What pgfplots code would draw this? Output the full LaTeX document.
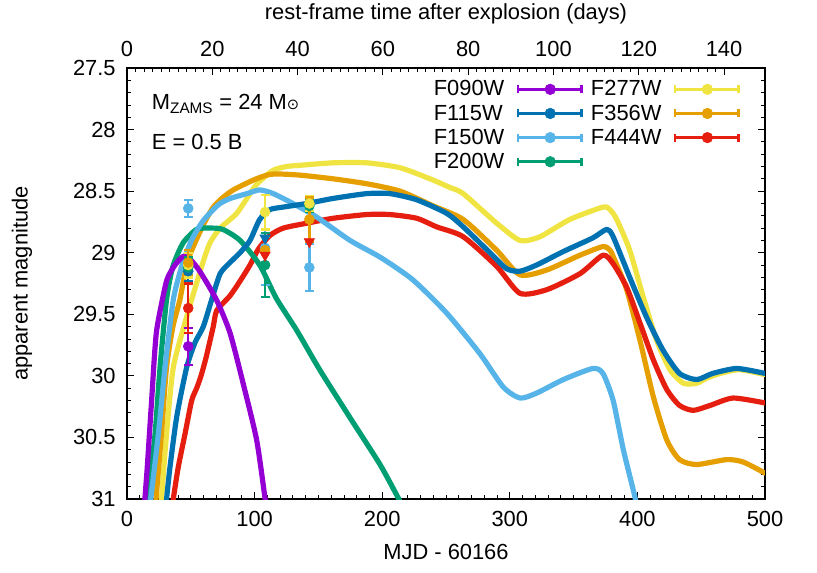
\documentclass[border=0pt]{standalone}
\usepackage{fontspec}
\setmainfont{Liberation Sans}
\newfontfamily\dejavu{DejaVu Sans}
\usepackage{pgfplots}
\pgfplotsset{compat=1.18}

\definecolor{c090}{HTML}{9400D3}
\definecolor{c115}{HTML}{0072B2}
\definecolor{c150}{HTML}{56B4E9}
\definecolor{c200}{HTML}{009E73}
\definecolor{c277}{HTML}{F0E442}
\definecolor{c356}{HTML}{E69F00}
\definecolor{c444}{HTML}{E51E10}

% gnuplot-like key sample: |---o---| drawn to the right of the text
\newcommand{\legimg}[1]{%
  \path (0pt,0pt);
  \draw[overlay, #1, line width=2pt] (63.3pt,0pt) -- (110.8pt,0pt)
    (63.3pt,-3pt) -- (63.3pt,3pt) (110.8pt,-3pt) -- (110.8pt,3pt);
  \fill[overlay, #1] (87.5pt,0pt) circle[radius=4pt];}

\pgfplotsset{
  curve/.style={line width=3.9pt, line join=round, line cap=round, mark=none,
    smooth, tension=0.4, forget plot},
  obs/.style={only marks, mark=*, mark size=3.75pt, forget plot,
    error bars/y dir=both, error bars/y explicit,
    error bars/error bar style={line width=1.8pt},
    error bars/error mark options={rotate=90, line width=1.8pt, mark size=3.4pt}},
  ulim/.style={only marks, mark=triangle*, mark size=4.5pt,
    mark options={rotate=180}, forget plot},
}

\begin{document}
\begin{tikzpicture}[font=\fontsize{16.4}{19}\selectfont]
\useasboundingbox (-95.25pt,-54.75pt) rectangle (517.5pt,374.25pt);
\begin{axis}[
  scale only axis, width=478.5pt, height=323.25pt,
  xmin=0, xmax=500, ymin=27.5, ymax=31, y dir=reverse,
  xtick={0,100,200,300,400,500},
  ytick={27.5,28,28.5,29,29.5,30,30.5,31},
  minor x tick num=9, minor y tick num=4,
  xtick pos=bottom, tick align=inside,
  major tick length=5pt, minor tick length=3pt,
  every tick/.style={black, line width=0.6pt},
  axis line style={line width=0.9pt},
  /pgf/number format/assume math mode=true,
  xticklabel style={yshift=-5.9pt},
  yticklabel style={xshift=-5pt},
  xlabel={MJD - 60166},
  xlabel style={at={(axis description cs:0.5,-0.123)}, anchor=center},
  ylabel={apparent magnitude},
  ylabel style={at={(axis description cs:-0.1646,0.5)}, anchor=center},
  legend columns=2, legend cell align=left,
  legend style={draw=none, fill=none, inner sep=0pt, outer sep=0pt,
    at={(axis description cs:0.4801,0.9705)}, anchor=north west,
    nodes={inner sep=0pt}, row sep=5.15pt,
    /tikz/every even column/.append style={column sep=64.6pt}},
]
% model light curves
\addplot[curve, c277] coordinates {
(26,31.1)(27,31.0)(31,30.47)(36.3,29.93)(46.8,29.52)(53,29.3)(59.8,29.07)(65,28.92)
(73,28.8)(86,28.68)(99,28.48)(104,28.42)(114.7,28.33)(125,28.3)(135.6,28.29)
(161.6,28.27)(187.9,28.27)(214,28.31)(237.5,28.4)(253,28.47)(263.5,28.52)
(289.7,28.76)(308,28.9)(323.7,28.87)(347,28.73)(373,28.63)(378.5,28.65)
(383.8,28.73)(394,28.98)(404.6,29.36)(415,29.71)(425.5,29.95)(436,30.06)
(446.5,30.06)(454,30.02)(465,29.98)(480,29.95)(500,29.99)};
\addplot[curve, c356] coordinates {
(21.5,31.1)(22.7,31.0)(27,30.47)(31,29.93)(36,29.6)(41.5,29.38)(46.8,29.09)
(52,28.95)(57.2,28.83)(62.5,28.72)(67.6,28.63)(74.2,28.56)(83.3,28.49)(99,28.41)
(109.5,28.37)(117,28.36)(135.6,28.37)(161.6,28.4)(187.9,28.44)(214,28.5)
(240,28.62)(263.5,28.73)(289.7,28.98)(308,29.18)(329,29.14)(355,29.02)
(373,28.95)(378.5,28.98)(381,29.03)(391.6,29.3)(402,29.71)(412.5,30.17)
(423,30.52)(433,30.68)(446.5,30.72)(470,30.68)(483,30.7)(500,30.79)};
\addplot[curve, c444] coordinates {
(35.5,31.1)(36.3,31.0)(40.2,30.74)(45.5,30.47)(50.7,30.2)(54.6,30.1)(58,30.0)
(62,29.85)(67.6,29.6)(70.3,29.47)(80.7,29.35)(88.6,29.23)(96.4,29.1)(103,28.97)
(112,28.86)(122.5,28.8)(141,28.76)(161.7,28.72)(187.9,28.69)(206,28.69)
(227,28.72)(242.7,28.79)(263.5,28.87)(289.7,29.11)(308,29.33)(329,29.3)
(355,29.17)(373,29.02)(381,29.09)(391.6,29.28)(402,29.57)(412.5,29.87)
(423,30.11)(433,30.24)(443.8,30.28)(457,30.24)(475,30.18)(500,30.22)};
\addplot[curve, c200] coordinates {
(15.5,31.1)(16.5,31.0)(22,30.47)(25.9,29.93)(31,29.38)(36,29.11)(44,28.92)
(54.6,28.81)(65,28.8)(75,28.81)(88.6,28.9)(104,29.1)(117,29.37)(133,29.63)
(151,29.95)(174.8,30.34)(198.3,30.72)(213,31.0)(215,31.05)};
\addplot[curve, c150] coordinates {
(17.5,31.1)(18.6,31.0)(24.6,30.47)(29.8,29.93)(36.3,29.38)(42.9,29.11)(50.5,28.9)
(59,28.75)(67.6,28.65)(73,28.6)(80.7,28.56)(94,28.52)(104,28.49)(114.6,28.52)
(130,28.6)(148.6,28.71)(174.8,28.9)(199,29.04)(224,29.22)(250.5,29.49)
(276.6,29.82)(294.8,30.09)(308,30.18)(321,30.14)(342,30.03)(365,29.94)
(373,29.98)(381,30.2)(389,30.6)(398,30.98)(399,31.05)};
\addplot[curve, c115] coordinates {
(30,31.1)(31,31.0)(33.7,30.74)(39,30.33)(46.8,29.93)(53.3,29.73)(59.8,29.6)
(66.4,29.38)(73,29.17)(80.7,29.08)(88.6,29.0)(96.4,28.9)(104,28.73)(112,28.65)
(122,28.63)(141,28.6)(161,28.56)(188,28.52)(206,28.52)(227,28.57)(250.5,28.68)
(263.5,28.79)(284.5,29.0)(297.5,29.13)(308,29.15)(321,29.1)(342,28.99)
(365,28.88)(376,28.81)(381,28.87)(394,29.2)(407,29.52)(420,29.79)(433,29.98)
(446.5,30.03)(459,29.98)(478,29.94)(500,29.98)};
\addplot[curve, c090] coordinates {
(13,31.15)(14,31.0)(15.9,30.74)(19.3,30.2)(23,29.65)(29.8,29.28)(32.4,29.19)
(37.6,29.1)(44,29.03)(50,29.06)(57,29.15)(70,29.38)(80.7,29.65)(91,30.06)
(101.6,30.52)(108,30.98)(109,31.05)};
% photometry
\addplot[c090, obs] coordinates {(48,29.76) +- (0,0.15)};
\addplot[c115, obs] coordinates {(48,29.15) +- (0,0.08)};
\addplot[c150, obs] coordinates {(48,28.64) +- (0,0.07) (108.2,28.96) +- (0,0.3) (142.9,29.12) +- (0,0.19)};
\addplot[c200, obs] coordinates {(48,29.12) +- (0,0.08) (108.2,29.1) +- (0,0.26) (142.9,28.62) +- (0,0.05)};
\addplot[c277, obs] coordinates {(48,29.1) +- (0,0.1) (108.2,28.67) +- (0,0.14) (142.9,28.6) +- (0,0.06)};
\addplot[c356, obs] coordinates {(48,29.08) +- (0,0.1) (108.2,28.98) +- (0,0.11) (142.9,28.73) +- (0,0.18)};
\addplot[c444, obs] coordinates {(48,29.45) +- (0,0.2)};
\addplot[c115, ulim] coordinates {(108.2,28.88)};
\addplot[c444, ulim] coordinates {(108.2,29.02) (142.9,28.91)};
% key
\addlegendimage{legend image code/.code={\legimg{c090}}}\addlegendentry{F090W}
\addlegendimage{legend image code/.code={\legimg{c277}}}\addlegendentry{F277W}
\addlegendimage{legend image code/.code={\legimg{c115}}}\addlegendentry{F115W}
\addlegendimage{legend image code/.code={\legimg{c356}}}\addlegendentry{F356W}
\addlegendimage{legend image code/.code={\legimg{c150}}}\addlegendentry{F150W}
\addlegendimage{legend image code/.code={\legimg{c444}}}\addlegendentry{F444W}
\addlegendimage{legend image code/.code={\legimg{c200}}}\addlegendentry{F200W}
\node[anchor=base west, inner sep=0pt] at (axis description cs:0.0387,0.9026)
  {M\textsubscript{ZAMS} = 24 M{\dejavu\fontsize{11}{11}\selectfont ⊙}};
\node[anchor=base west, inner sep=0pt] at (axis description cs:0.0387,0.8114)
  {E = 0.5 B};
\end{axis}
\begin{axis}[
  scale only axis, width=478.5pt, height=323.25pt,
  xmin=0, xmax=149.6, ymin=0, ymax=1,
  hide y axis, axis x line*=top, tick align=inside,
  xtick={0,20,40,60,80,100,120,140}, minor x tick num=9,
  major tick length=5pt, minor tick length=3pt,
  every tick/.style={black, line width=0.6pt},
  axis line style={line width=0.9pt},
  /pgf/number format/assume math mode=true,
  xticklabel style={yshift=5.16pt},
  xlabel={rest-frame time after explosion (days)},
  xlabel style={at={(axis description cs:0.5,1.1253)}, anchor=center},
]
\end{axis}
\end{tikzpicture}
\end{document}
